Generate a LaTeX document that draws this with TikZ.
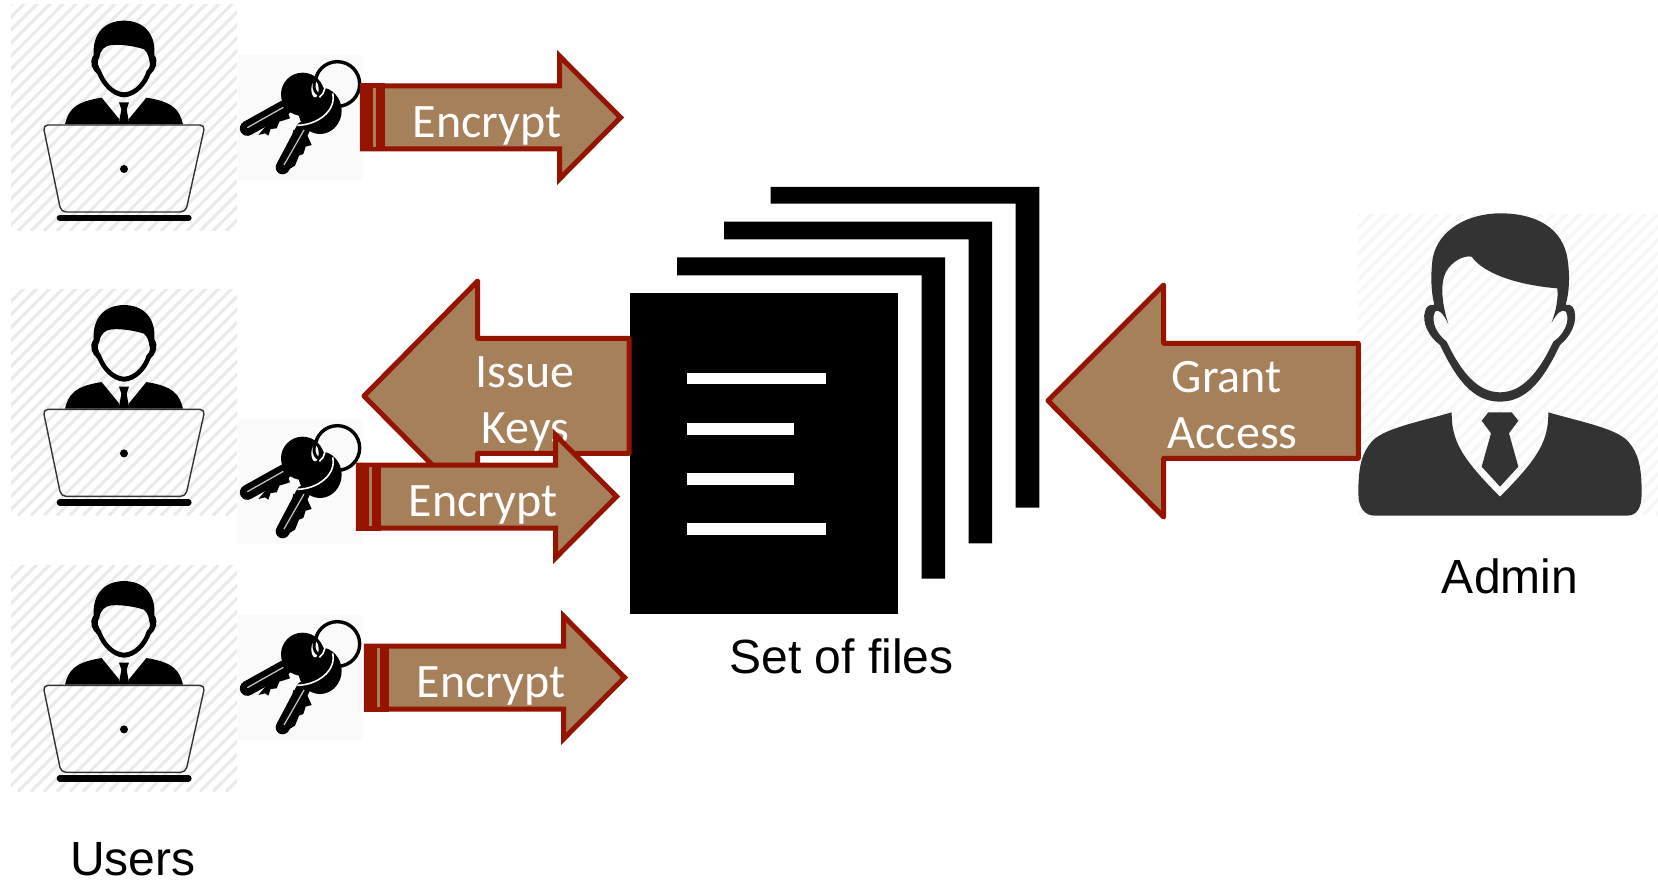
\documentclass[tikz,border=0pt]{standalone}
\usepackage{fontspec}
\setmainfont{Liberation Sans}
\newfontfamily\arrowfont{Carlito}
\definecolor{tanfill}{HTML}{A67F5B}
\definecolor{redline}{HTML}{941400}
\definecolor{darkicon}{HTML}{333333}
\definecolor{hatchA}{HTML}{EAEAEA}
\definecolor{hatchB}{HTML}{F6F6F6}
\tikzset{
  blockarrow/.style={draw=redline,fill=tanfill,line width=5pt},
  arrowtext/.style={text=white,font=\arrowfont\fontsize{48}{48}\selectfont,anchor=base,inner sep=0pt},
  caption/.style={text=black,font=\fontsize{48}{48}\selectfont,anchor=base,inner sep=0pt},
  sheet/.style={fill=black},
  sheetline/.style={fill=white},
}
\newcommand{\hatchbox}[5]{%
  \begin{scope}
    \clip (#1,#2) rectangle (#3,#4);
    \foreach \i in {-320,-307,...,1700}{
      \draw[#5,line width=3pt] (\i,#4) -- +(350,-350);
    }
  \end{scope}}
\newcommand{\usericon}[1]{%
  \begin{scope}[shift={(0,#1)}]
    \hatchbox{11}{5}{237}{231}{hatchA}
    \begin{scope}[x=0.33333pt,y=-0.33333pt]
      \fill[black,even odd rule]
        (372,292) .. controls (335,290) and (305,255) .. (292,222)
        .. controls (276,210) and (266,185) .. (281,165)
        .. controls (277,100) and (315,62) .. (372,62)
        .. controls (430,62) and (468,100) .. (463,165)
        .. controls (477,185) and (466,210) .. (452,222)
        .. controls (440,255) and (410,290) .. (372,292) -- cycle
        (372,277) .. controls (340,275) and (315,245) .. (303,212)
        .. controls (295,200) and (288,185) .. (298,172)
        .. controls (302,150) and (312,138) .. (335,135)
        .. controls (365,132) and (410,140) .. (432,148)
        .. controls (445,160) and (446,172) .. (448,182)
        .. controls (453,195) and (448,205) .. (440,212)
        .. controls (430,245) and (405,275) .. (372,277) -- cycle;
      \fill[black] (195,373) .. controls (205,330) and (225,305) .. (305,293)
        -- (358,358) -- (356,373) -- cycle;
      \fill[black] (549,373) .. controls (539,330) and (519,305) .. (439,293)
        -- (386,358) -- (388,373) -- cycle;
      \fill[black] (357,307) -- (387,307) -- (380,328) -- (388,373) -- (356,373) -- (364,328) -- cycle;
      \draw[darkicon,line width=1.4pt,rounded corners=5pt]
        (129,375) -- (615,375) -- (557,636) -- (183,636) -- cycle;
      \draw[black,line width=6.6pt,line cap=round] (180,654) -- (565,654);
      \fill[black] (372,507) circle [radius=12];
    \end{scope}
  \end{scope}}
\newcommand{\keyicon}[2]{%
  \begin{scope}[shift={(#1,#2)}]
    \fill[black!2] (238,55) rectangle (362,180);
    \begin{scope}[shift={(240,50)},x=0.33333pt,y=-0.33333pt]
      \draw[black,line width=3.4pt] (292,102) circle [radius=67];
      \fill[black] (55,255) -- (75,250) -- (85,257) -- (92,237) -- (110,235) -- (118,215) -- (150,205) -- (135,160) -- cycle;
      \fill[black] (195,240) -- (215,285) -- (197,290) -- (190,312) -- (177,317) -- (165,347) -- (135,365) -- (160,240) -- cycle;
      \draw[black,line width=15pt,line cap=round] (22,235) -- (135,172);
      \draw[black,line width=14pt,line cap=round] (128,352) -- (190,235);
      \fill[black] (240,182) ellipse [x radius=65,y radius=70];
      \fill[black] (188,133) circle [radius=65];
      \draw[white!75!black,line width=1.3pt] (22,233) -- (130,172);
      \draw[white!75!black,line width=1.3pt] (132,345) -- (192,240);
      \draw[white,line width=1.6pt] (278,130) .. controls (290,180) and (235,225) .. (172,226);
      \fill[white] (225,118) ellipse [x radius=11,y radius=24];
      \draw[black,line width=3pt] (232,75) .. controls (215,100) and (220,135) .. (245,135);
      \draw[white,line width=1.6pt] (245,85) .. controls (262,105) and (255,130) .. (238,142);
    \end{scope}
  \end{scope}}
\newcommand{\encryptarrow}[3]{%
  \begin{scope}[shift={(#1,#2)}]
    \path[blockarrow,miter limit=10]
      (362.3,86) -- (559.5,86) -- (559.5,56) -- (620.5,117.5)
      -- (559.5,179) -- (559.5,149) -- (362.3,149) -- cycle;
    \fill[redline] (360,83.5) rectangle (385,151.5);
    \fill[tanfill] (373,88) rectangle (376,147);
    \node[arrowtext] (#3) at (487,137.5) {Encrypt};
  \end{scope}}
\begin{document}
\begin{tikzpicture}[x=1pt,y=-1pt]
  \useasboundingbox (0,0) rectangle (1658,885);
  \fill[white] (0,0) rectangle (1658,885);

  % users
  \usericon{0}
  \usericon{284.4}
  \usericon{560.4}

  % stacked files
  \fill[sheet] (770.7,187) -- (1039.3,187) -- (1039.3,507.7) -- (1015.7,507.7) -- (1015.7,203.7) -- (770.7,203.7) -- cycle;
  \fill[sheet] (724,221.7) -- (992,221.7) -- (992,543.3) -- (968.7,543.3) -- (968.7,239.3) -- (724,239.3) -- cycle;
  \fill[sheet] (677,257.3) -- (945,257.3) -- (945,578.7) -- (921.7,578.7) -- (921.7,275.3) -- (677,275.3) -- cycle;
  \fill[sheet] (630,293) rectangle (898.3,614.3);
  \fill[sheetline] (686.7,372.7) rectangle (826,384.3);
  \fill[sheetline] (686.7,422.7) rectangle (794,435);
  \fill[sheetline] (686.7,472.7) rectangle (794,485);
  \fill[sheetline] (686.7,523.3) rectangle (826,535);

  % admin
  \hatchbox{1358}{215}{1658}{515}{hatchB}
  \begin{scope}[shift={(1340,200)},x=0.33333pt,y=-0.33333pt]
    \fill[darkicon,even odd rule]
      (480,605) .. controls (400,605) and (350,540) .. (300,435)
      .. controls (265,410) and (245,365) .. (255,335)
      .. controls (258,318) and (270,312) .. (283,315)
      .. controls (272,270) and (272,220) .. (278,175)
      .. controls (295,85) and (390,40) .. (480,40)
      .. controls (590,40) and (670,85) .. (683,180)
      .. controls (690,230) and (688,275) .. (677,315)
      .. controls (695,310) and (705,325) .. (705,345)
      .. controls (708,375) and (690,410) .. (660,435)
      .. controls (610,540) and (560,605) .. (480,605) -- cycle
      (480,577) .. controls (415,577) and (365,520) .. (320,425)
      .. controls (295,405) and (270,370) .. (285,335)
      .. controls (295,325) and (310,340) .. (325,372)
      .. controls (305,310) and (300,250) .. (318,215)
      .. controls (335,185) and (370,165) .. (395,170)
      .. controls (430,220) and (530,255) .. (652,265)
      .. controls (655,300) and (648,330) .. (635,368)
      .. controls (650,340) and (665,325) .. (678,335)
      .. controls (692,365) and (670,405) .. (640,425)
      .. controls (595,520) and (545,577) .. (480,577) -- cycle;
    \fill[darkicon]
      (335,637) .. controls (240,665) and (130,685) .. (95,725)
      .. controls (65,760) and (55,800) .. (55,880)
      .. controls (55,925) and (75,947) .. (105,947)
      -- (860,947)
      .. controls (890,947) and (905,925) .. (905,880)
      .. controls (905,800) and (895,760) .. (865,725)
      .. controls (830,685) and (720,665) .. (625,637)
      .. controls (625,720) and (600,770) .. (480,890)
      .. controls (360,770) and (335,720) .. (335,637) -- cycle;
    \fill[darkicon] (445,637) -- (515,637) -- (535,662) -- (507,700) -- (535,800) -- (480,860) -- (425,800) -- (453,700) -- (425,662) -- cycle;
  \end{scope}

  % grant access arrow
  \path[blockarrow,line join=round]
    (1048,400.7) -- (1163.7,285) -- (1163.7,343.3) -- (1358.3,343.3)
    -- (1358.3,458.3) -- (1163.7,458.3) -- (1163.7,517) -- cycle;
  \node[arrowtext] (grant) at (1226.7,392.5) {Grant};
  \node[arrowtext] (access) at (1232.7,448.5) {Access};

  % issue keys arrow
  \path[blockarrow,line join=round]
    (364,396) -- (477.7,281) -- (477.7,338.3) -- (629,338.3)
    -- (629,453.3) -- (477.7,453.3) -- (477.7,511) -- cycle;
  \node[arrowtext] (issue) at (525,387.5) {Issue};
  \node[arrowtext] (keys) at (525.5,443.5) {Keys};

  % keys
  \keyicon{0}{0}
  \keyicon{0}{364}
  \keyicon{0}{560}

  % encrypt arrows
  \encryptarrow{0}{0}{enca}
  \encryptarrow{-4}{379}{encb}
  \encryptarrow{4}{560}{encc}

  % captions
  \node[caption] (admin) at (1510,593) {Admin};
  \node[caption] (files) at (841.5,673) {Set of files};
  \node[caption] (users) at (133,875) {Users};
\end{tikzpicture}
\end{document}
